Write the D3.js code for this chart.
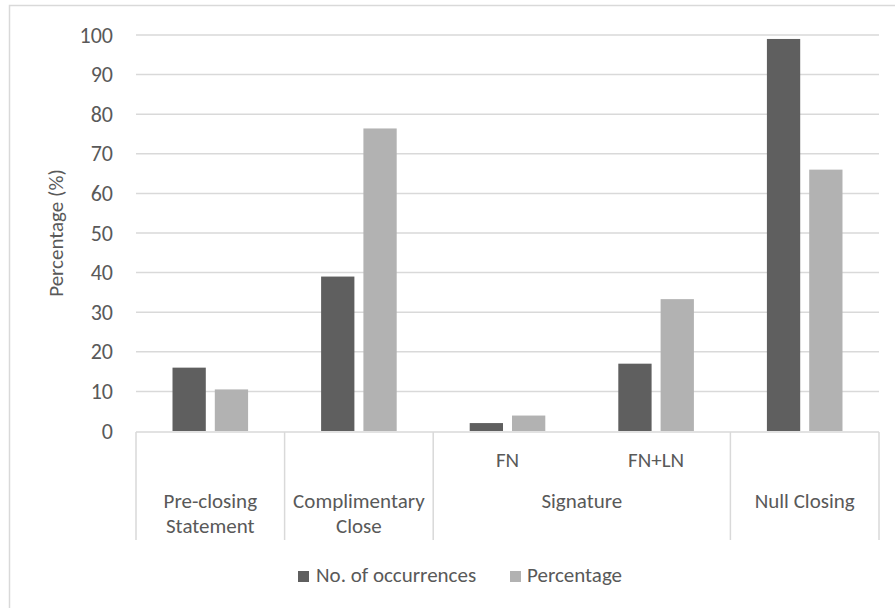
<!DOCTYPE html>
<html>
<head>
<meta charset="utf-8">
<script src="https://cdn.jsdelivr.net/npm/d3@7"></script>
<style>
  html, body { margin: 0; padding: 0; background: #fff; }
  svg { display: block; }
  text { font-family: Carlito, Calibri, Lato, "Open Sans", sans-serif; fill: #595959; }
</style>
</head>
<body>
<svg id="chart" width="895" height="608"></svg>
<script>
// Closing-move categories (inner level) and their parent groups
const categories = ["Pre-closing Statement", "Complimentary Close", "FN", "FN+LN", "Null Closing"];
const groups = [
  { label: ["Pre-closing", "Statement"], members: ["Pre-closing Statement"] },
  { label: ["Complimentary", "Close"], members: ["Complimentary Close"] },
  { label: ["Signature"], members: ["FN", "FN+LN"] },
  { label: ["Null Closing"], members: ["Null Closing"] }
];
const seriesNames = ["No. of occurrences", "Percentage"];
const occurrences = [16, 39, 2, 17, 99];
const percentage = [10.5, 76.4, 3.9, 33.3, 66];
const yTicks = [0, 10, 20, 30, 40, 50, 60, 70, 80, 90, 100];
const colors = ["#5f5f5f", "#b2b2b2"];

const svg = d3.select("#chart");
const plot = { left: 136, right: 879, top: 35, bottom: 431 };
const axisBottom = 540;
const gridColor = "#d9d9d9";
const fontSize = 21;

// chart frame
svg.append("rect")
  .attr("x", 9.5).attr("y", 5.5)
  .attr("width", 920).attr("height", 640)
  .attr("fill", "none").attr("stroke", gridColor).attr("stroke-width", 1.5);

const y = d3.scaleLinear().domain([0, 100]).range([plot.bottom, plot.top]);
const x0 = d3.scaleBand().domain(categories).range([plot.left, plot.right]).padding(0);
const x1 = d3.scaleBand().domain(seriesNames).range([0, x0.bandwidth()])
  .paddingInner(0.213).paddingOuter(0.863);

// gridlines
svg.append("g").selectAll("line").data(yTicks.filter(t => t > 0)).join("line")
  .attr("x1", plot.left).attr("x2", plot.right)
  .attr("y1", d => y(d)).attr("y2", d => y(d))
  .attr("stroke", gridColor).attr("stroke-width", 1.5);

// y axis labels via d3.axisLeft, domain and tick lines hidden
const yAxis = svg.append("g")
  .attr("transform", `translate(${plot.left - 16},0)`)
  .call(d3.axisLeft(y).tickValues(yTicks).tickSize(0).tickPadding(7).tickFormat(d3.format("d")));
yAxis.select(".domain").remove();
yAxis.selectAll("text")
  .style("font-family", "Carlito, Calibri, Lato, 'Open Sans', sans-serif")
  .style("font-size", (fontSize + 1) + "px")
  .attr("fill", "#595959");

// y axis title
svg.append("text")
  .attr("transform", "translate(63,233) rotate(-90)")
  .attr("text-anchor", "middle")
  .style("font-size", fontSize + "px")
  .text("Percentage (%)");

// bars
const rows = categories.map((c, i) => ({ cat: c, values: [occurrences[i], percentage[i]] }));
const barG = svg.append("g").selectAll("g").data(rows).join("g")
  .attr("transform", d => `translate(${x0(d.cat)},0)`);
barG.selectAll("rect")
  .data(d => d.values.map((v, k) => ({ key: seriesNames[k], value: v, k })))
  .join("rect")
  .attr("x", d => x1(d.key))
  .attr("width", x1.bandwidth())
  .attr("y", d => y(d.value))
  .attr("height", d => y(0) - y(d.value))
  .attr("fill", d => colors[d.k]);

// category axis: baseline, group separators, labels
const axisG = svg.append("g");
axisG.append("line")
  .attr("x1", plot.left).attr("x2", plot.right)
  .attr("y1", plot.bottom + 1).attr("y2", plot.bottom + 1)
  .attr("stroke", gridColor).attr("stroke-width", 1.5);

const groupBounds = groups.map(g => {
  const start = x0(g.members[0]);
  const end = x0(g.members[g.members.length - 1]) + x0.bandwidth();
  return { ...g, start, end };
});
const edges = [groupBounds[0].start, ...groupBounds.map(g => g.end)];
axisG.selectAll(".sep").data(edges).join("line")
  .attr("class", "sep")
  .attr("x1", d => d).attr("x2", d => d)
  .attr("y1", plot.bottom + 1).attr("y2", axisBottom)
  .attr("stroke", gridColor).attr("stroke-width", 1.5);

// inner-level labels for groups with more than one member
groupBounds.filter(g => g.members.length > 1).forEach(g => {
  g.members.forEach(m => {
    axisG.append("text")
      .attr("x", x0(m) + x0.bandwidth() / 2)
      .attr("y", 467)
      .attr("text-anchor", "middle")
      .style("font-size", fontSize + "px")
      .text(m);
  });
});

// outer-level labels
groupBounds.forEach(g => {
  const t = axisG.append("text")
    .attr("x", (g.start + g.end) / 2)
    .attr("y", 508)
    .attr("text-anchor", "middle")
    .style("font-size", fontSize + "px");
  g.label.forEach((line, i) => {
    t.append("tspan")
      .attr("x", (g.start + g.end) / 2)
      .attr("dy", i === 0 ? 0 : 25)
      .text(line);
  });
});

// legend
const legendItems = [
  { name: seriesNames[0], color: colors[0], x: 298 },
  { name: seriesNames[1], color: colors[1], x: 510 }
];
const lg = svg.append("g").selectAll("g").data(legendItems).join("g")
  .attr("transform", d => `translate(${d.x},571)`);
lg.append("rect").attr("width", 11).attr("height", 11).attr("fill", d => d.color);
lg.append("text")
  .attr("x", d => d.x === 298 ? 18 : 17)
  .attr("y", 11)
  .style("font-size", fontSize + "px")
  .text(d => d.name);
</script>
</body>
</html>
